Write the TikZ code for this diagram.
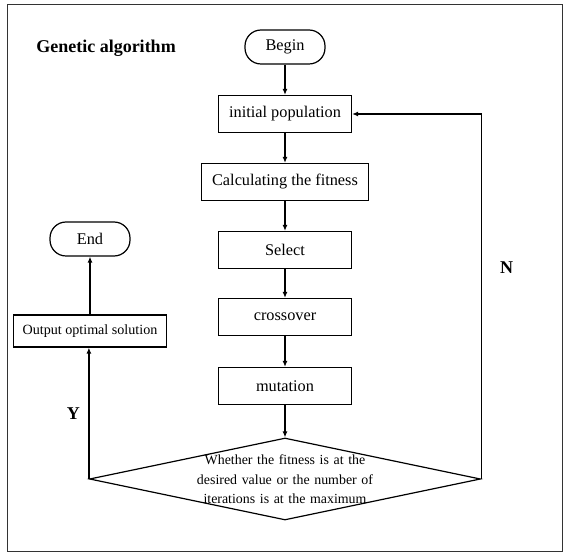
\documentclass[tikz,border=0pt]{standalone}
\usepackage{fontspec}
\setmainfont{Liberation Serif}
\usetikzlibrary{shapes.geometric, arrows.meta}
\tikzstyle{startstop} = [rectangle, rounded corners=16pt, minimum width=80pt, minimum height=34pt, text centered, draw=black, line width=1.2pt, font=\fontsize{16.3}{19}\selectfont]
\tikzstyle{process} = [rectangle, minimum width=133pt, minimum height=37pt, inner xsep=8pt, text centered, draw=black, line width=1.2pt, font=\fontsize{16.3}{19}\selectfont]
\tikzstyle{decision} = [diamond, minimum width=391pt, minimum height=82pt, aspect=4.77, inner xsep=-12pt, inner ysep=-10pt, text centered, draw=black, line width=1.2pt, text width=195pt, font=\fontsize{13.9}{18.5}\selectfont]
\tikzstyle{arrow} = [line width=1.2pt,-{Latex[length=6pt,width=5pt]}]
\tikzstyle{label} = [font=\fontsize{18}{21}\selectfont\bfseries]

\begin{document}
\begin{tikzpicture}[node distance=68pt]
  \useasboundingbox (0pt,0pt) rectangle (563pt,-553pt);
  \draw [line width=1pt, black!80] (7pt,-5pt) rectangle (562pt,-552pt);

  \node (title) [label] at (106pt,-48pt) {Genetic algorithm};
  \node (start) [startstop] at (285pt,-47pt) {Begin};
  \node (init) [process, below of=start, yshift=1pt] {initial population};
  \node (fit) [process, below of=init, inner xsep=11pt] {Calculating the fitness};
  \node (sel) [process, below of=fit] {Select};
  \node (cross) [process, below of=sel, yshift=1pt] {crossover};
  \node (mut) [process, below of=cross, yshift=-1pt] {mutation};
  \node (dec) [decision, below of=mut, yshift=-25pt] {\vspace*{2pt}Whether the fitness is at the desired value or the number of iterations is at the maximum};
  \node (out) [process, minimum width=153pt, minimum height=32pt, inner xsep=8pt, font=\fontsize{14.1}{17}\selectfont, left of=cross, xshift=-127pt, yshift=-14pt] {Output optimal solution};
  \node (stop) [startstop, above of=out, yshift=24pt] {End};

  \draw [arrow] (start) -- (init);
  \draw [arrow] (init) -- (fit);
  \draw [arrow] (fit) -- (sel);
  \draw [arrow] (sel) -- (cross);
  \draw [arrow] (cross) -- (mut);
  \draw [arrow] (mut) -- (dec);
  \draw [arrow] (dec.west) -- node[label, anchor=east, xshift=-5pt] {Y} (dec.west |- out.south);
  \draw [arrow] (out) -- (stop);
  \draw [arrow] (dec.east) |- node[label, pos=0.29, anchor=west, xshift=15pt] {N} (init.east);
\end{tikzpicture}
\end{document}
